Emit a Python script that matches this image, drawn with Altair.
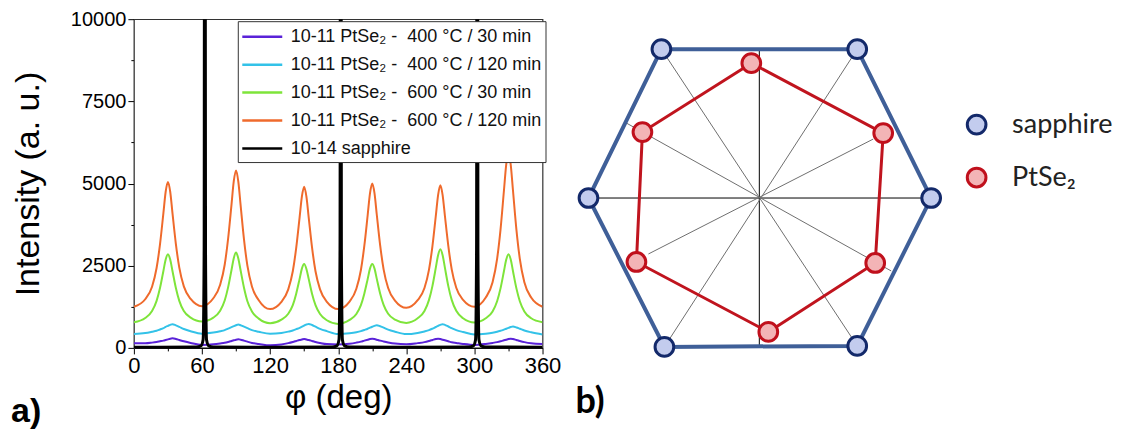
import altair as alt
import pandas as pd

# ---------------- panel a) data ----------------
phi_grid = [0, 10, 16, 20, 23, 26, 28, 30, 32, 34, 37, 40, 44, 50,
            60, 70, 76, 80, 83, 86, 88, 90, 92, 94, 97, 100, 104, 110,
            120, 130, 136, 140, 143, 146, 148, 150, 152, 154, 157, 160, 164, 170,
            180, 190, 196, 200, 203, 206, 208, 210, 212, 214, 217, 220, 224, 230,
            240, 250, 256, 260, 263, 266, 268, 270, 272, 274, 277, 280, 284, 290,
            300, 310, 316, 320, 323, 326, 328, 330, 332, 334, 337, 340, 344, 350,
            360]

int_400_30 = [140, 140, 160, 180, 200, 220, 240, 260, 280, 290, 270, 240, 200, 150,
              90, 110, 135, 155, 180, 210, 230, 250, 260, 250, 220, 190, 150, 120,
              80, 105, 145, 180, 210, 240, 255, 270, 255, 240, 210, 180, 150, 115,
              100, 125, 160, 190, 220, 250, 270, 280, 270, 250, 220, 195, 165, 130,
              110, 145, 175, 210, 240, 270, 280, 270, 250, 230, 200, 170, 150, 120,
              90, 120, 150, 175, 200, 230, 250, 270, 280, 270, 240, 210, 175, 140,
              120]

int_400_120 = [420, 450, 490, 520, 560, 600, 640, 670, 700, 720, 685, 640, 575, 505,
               430, 465, 505, 540, 585, 630, 660, 690, 710, 690, 645, 600, 540, 490,
               430, 455, 495, 530, 570, 610, 645, 680, 710, 730, 695, 645, 580, 510,
               420, 445, 477, 510, 545, 582, 614, 644, 671, 690, 658, 614, 555, 493,
               420, 456, 500, 540, 585, 636, 670, 700, 720, 700, 650, 600, 540, 483,
               410, 432, 460, 490, 520, 554, 583, 609, 633, 650, 621, 583, 530, 475,
               410]

int_600_30 = [780, 910, 1120, 1430, 1820, 2340, 2690, 2850, 2690, 2340, 1820, 1430, 1120, 920,
              800, 920, 1130, 1440, 1840, 2370, 2730, 2900, 2720, 2360, 1830, 1420, 1110, 890,
              750, 860, 1040, 1300, 1650, 2100, 2410, 2550, 2400, 2100, 1640, 1300, 1030, 840,
              730, 850, 1030, 1300, 1650, 2100, 2410, 2550, 2410, 2100, 1650, 1310, 1040, 860,
              760, 900, 1120, 1460, 1880, 2440, 2820, 3000, 2820, 2440, 1880, 1460, 1130, 900,
              770, 900, 1110, 1420, 1810, 2330, 2680, 2850, 2690, 2330, 1810, 1420, 1110, 900,
              780]

int_600_120 = [1250, 1480, 1860, 2430, 3150, 4100, 4750, 5050, 4750, 4100, 3160, 2440, 1870, 1490,
               1270, 1510, 1920, 2530, 3320, 4360, 5070, 5400, 5060, 4350, 3300, 2500, 1870, 1450,
               1180, 1400, 1780, 2330, 3040, 3970, 4600, 4900, 4600, 3970, 3040, 2330, 1780, 1400,
               1180, 1410, 1800, 2370, 3100, 4050, 4700, 5000, 4700, 4050, 3110, 2390, 1820, 1440,
               1220, 1450, 1820, 2380, 3090, 4020, 4650, 4950, 4650, 4020, 3100, 2390, 1830, 1460,
               1250, 1530, 2000, 2710, 3600, 4780, 5570, 5950, 5570, 4780, 3600, 2710, 2000, 1530,
               1250]

phi_sapphire = [0, 55, 59, 61, 61.9, 62.5, 63.1, 64, 66, 70,
                120, 174.7, 178.7, 180.7, 181.6, 182.2, 182.8, 183.7, 185.7, 189.7,
                240, 295, 299, 301, 301.9, 302.5, 303.1, 304, 306, 310, 360]
int_sapphire = [20, 30, 60, 250, 3000, 30000, 3000, 250, 60, 30,
                20, 30, 60, 250, 3000, 30000, 3000, 250, 60, 30,
                20, 30, 60, 250, 3000, 30000, 3000, 250, 60, 30, 20]

series_labels = [
    "10-11 PtSe\u2082 -\u00a0 400 \u00b0C / 30 min",
    "10-11 PtSe\u2082 -\u00a0 400 \u00b0C / 120 min",
    "10-11 PtSe\u2082 -\u00a0 600 \u00b0C / 30 min",
    "10-11 PtSe\u2082 -\u00a0 600 \u00b0C / 120 min",
    "10-14 sapphire",
]
series_colors = ["#5a22d8", "#33c2e8", "#7ee43a", "#ef6a2c", "#000000"]

x_tick_values = [0, 30, 60, 90, 120, 150, 180, 210, 240, 270, 300, 330, 360]
y_tick_values = [0, 1250, 2500, 3750, 5000, 6250, 7500, 8750, 10000]

# ---------------- panel b) data ----------------
sapph_x = [-98, 98, 172, 98, -95, -171]
sapph_y = [149, 149, 0, -148, -149, 0]
ptse_x = [-8, 124, 116, 9, -123, -117]
ptse_y = [135, 65, -65, -134, -64, 66]
spoke_x1 = [0, -171, -98, 98, -133, 114]
spoke_y1 = [149, 0, 149, 149, 75, 59]
spoke_x2 = [0, 172, 98, -95, 132, -111]
spoke_y2 = [-149, 0, -148, -149, -73, -56]
spoke_colors = ["#000000", "#000000", "#6e6e6e", "#6e6e6e", "#6e6e6e", "#6e6e6e"]
kind_labels = ["sapphire", "PtSe\u2082"]
kind_fill = ["#c3ccee", "#f3b4b6"]
kind_stroke = ["#13296a", "#c0101c"]

# ---------------- build tables ----------------
rows = []
for lab, vals in zip(series_labels[:4], [int_400_30, int_400_120, int_600_30, int_600_120]):
    for p, v in zip(phi_grid, vals):
        rows.append({"series": lab, "phi": p, "intensity": v})
for p, v in zip(phi_sapphire, int_sapphire):
    rows.append({"series": series_labels[4], "phi": p, "intensity": v})
df_a = pd.DataFrame(rows)

FONT_A = "Liberation Sans"
FONT_B = "Lato"
W_A, H_A = 409, 329

lines = alt.Chart(df_a).mark_line(clip=True, interpolate="monotone").encode(
    x=alt.X("phi:Q", scale=alt.Scale(domain=[0, 360], nice=False, zero=False),
            axis=alt.Axis(values=x_tick_values, title="\u03c6 (deg)",
                          labelExpr="datum.value % 60 === 0 ? datum.label : ''",
                          tickSize={"condition": {"test": "datum.value % 60 === 0", "value": 6}, "value": 3},
                          labelFontSize=22, titleFontSize=33, labelFont=FONT_A, titleFont=FONT_A,
                          titleFontWeight="normal", labelColor="black", titleColor="black",
                          domainColor="black", tickColor="black", grid=False, labelFlush=False,
                          labelPadding=2, titlePadding=5, format="d")),
    y=alt.Y("intensity:Q", scale=alt.Scale(domain=[0, 10000], nice=False),
            axis=alt.Axis(values=y_tick_values, title="Intensity (a. u.)",
                          labelExpr="datum.value % 2500 === 0 ? datum.value : ''",
                          tickSize={"condition": {"test": "datum.value % 2500 === 0", "value": 6}, "value": 3},
                          labelFontSize=20, titleFontSize=34, labelFont=FONT_A, titleFont=FONT_A,
                          titleFontWeight="normal", labelColor="black", titleColor="black",
                          domainColor="#555555", tickColor="black", grid=False, labelFlush=False,
                          labelPadding=2, titlePadding=25)),
    color=alt.Color("series:N", scale=alt.Scale(domain=series_labels, range=series_colors),
                    legend=alt.Legend(title=None, orient="none", legendX=104, legendY=2,
                                      strokeColor="#333333", fillColor="white", padding=4,
                                      labelFontSize=18, labelFont=FONT_A, labelColor="#111111",
                                      symbolType="M-2,0H2", symbolSize=400, symbolStrokeWidth=2.5,
                                      symbolOffset=9, labelOffset=17, rowPadding=7, labelLimit=400)),
    strokeWidth=alt.condition(alt.datum.series == series_labels[4], alt.value(3), alt.value(2)),
)

label_a = alt.Chart(pd.DataFrame({"t": ["a)"]})).mark_text(
    font=FONT_A, fontSize=34, fontWeight="bold", align="left", baseline="middle", color="black"
).encode(text="t:N", x=alt.value(-123), y=alt.value(393))

panel_a = alt.layer(lines, label_a).properties(
    width=W_A, height=H_A, view=alt.ViewBackground(stroke="#333333", strokeWidth=1.2))

# ---------------- panel b ----------------
df_spokes = pd.DataFrame({"x1": spoke_x1, "y1": spoke_y1, "x2": spoke_x2, "y2": spoke_y2,
                          "c": spoke_colors})
df_hex = pd.DataFrame({"x": sapph_x + [sapph_x[0]], "y": sapph_y + [sapph_y[0]],
                       "o": list(range(len(sapph_x) + 1))})
df_pt = pd.DataFrame({"x": ptse_x + [ptse_x[0]], "y": ptse_y + [ptse_y[0]],
                      "o": list(range(len(ptse_x) + 1))})
df_pts = pd.DataFrame({"x": sapph_x + ptse_x, "y": sapph_y + ptse_y,
                       "kind": [kind_labels[0]] * len(sapph_x) + [kind_labels[1]] * len(ptse_x)})

xs = alt.Scale(domain=[-190, 190], nice=False, zero=False)
ys = alt.Scale(domain=[-150, 179], nice=False, zero=False)

spokes = alt.Chart(df_spokes).mark_rule(strokeWidth=1).encode(
    x=alt.X("x1:Q", scale=xs, axis=None), y=alt.Y("y1:Q", scale=ys, axis=None),
    x2="x2:Q", y2="y2:Q", color=alt.Color("c:N", scale=None))

hexline = alt.Chart(df_hex).mark_line(color="#3f5f98", strokeWidth=4).encode(
    x=alt.X("x:Q", scale=xs, axis=None), y=alt.Y("y:Q", scale=ys, axis=None), order="o:Q")

ptline = alt.Chart(df_pt).mark_line(color="#c0141e", strokeWidth=3).encode(
    x=alt.X("x:Q", scale=xs, axis=None), y=alt.Y("y:Q", scale=ys, axis=None), order="o:Q")

leg_b = dict(title=None, orient="none", legendX=830, legendY=92, labelFontSize=27,
             labelFont=FONT_B, labelColor="#222222", symbolSize=350, symbolStrokeWidth=3,
             rowPadding=22, labelOffset=22, padding=0)

pts = alt.Chart(df_pts).mark_point(filled=True, shape="circle", size=350, strokeWidth=3,
                                   opacity=1).encode(
    x=alt.X("x:Q", scale=xs, axis=None), y=alt.Y("y:Q", scale=ys, axis=None),
    fill=alt.Fill("kind:N", scale=alt.Scale(domain=kind_labels, range=kind_fill),
                  legend=alt.Legend(**leg_b)),
    stroke=alt.Stroke("kind:N", scale=alt.Scale(domain=kind_labels, range=kind_stroke),
                      legend=alt.Legend(**leg_b)),
)

label_b = alt.Chart(pd.DataFrame({"t": ["b)"]})).mark_text(
    font=FONT_B, fontSize=36, fontWeight="bold", align="left", baseline="middle", color="black"
).encode(text="t:N", x=alt.value(6), y=alt.value(383))

panel_b = alt.layer(spokes, hexline, ptline, pts, label_b).properties(
    width=380, height=329, view=alt.ViewBackground(strokeOpacity=0))

chart = alt.hconcat(panel_a, panel_b, spacing=8).properties(
    padding={"left": 2, "top": 0, "right": 2, "bottom": 2}
).configure_view(strokeWidth=0)

chart.save("out.html", embed_options={"renderer": "svg", "actions": False})
